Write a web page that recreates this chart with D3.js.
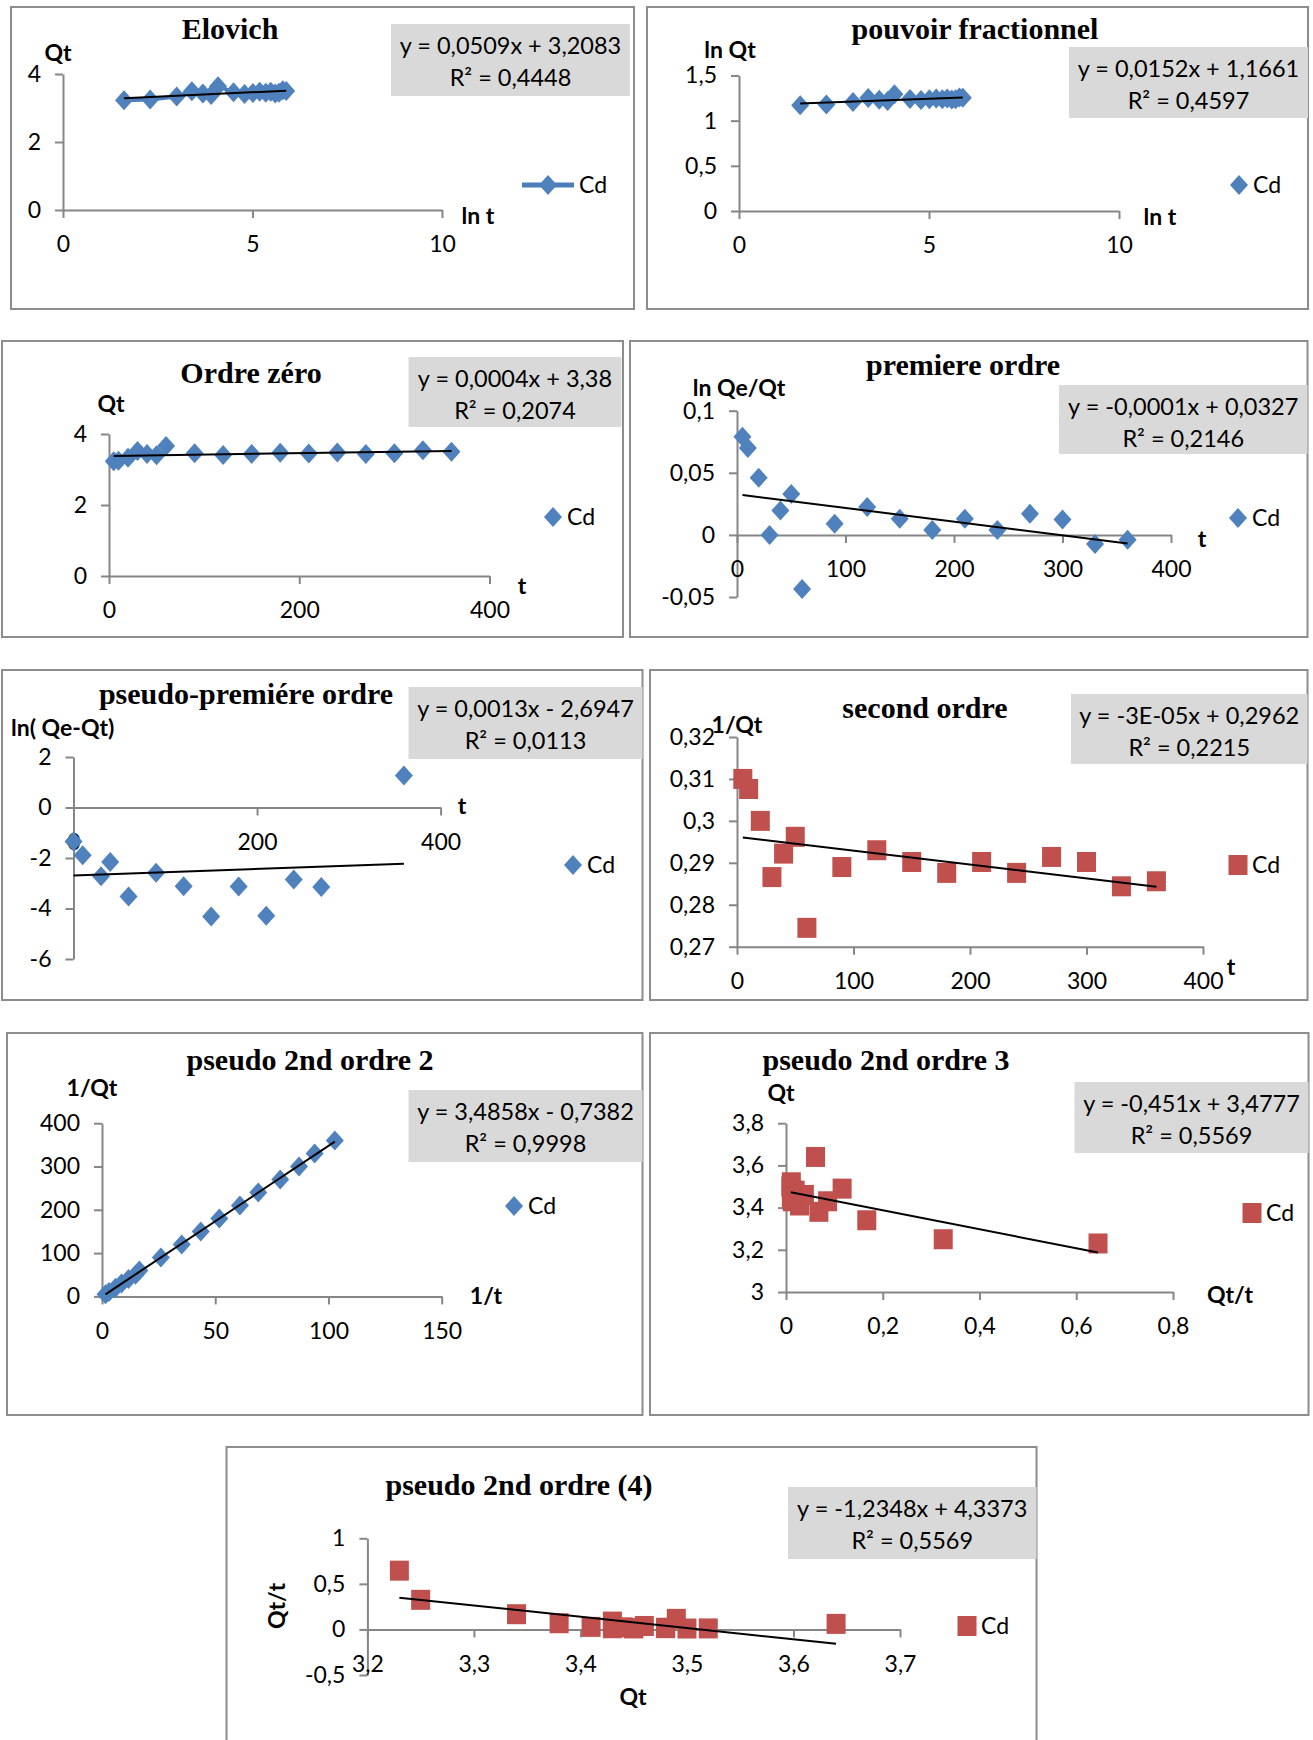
<!DOCTYPE html>
<html>
<head>
<meta charset="utf-8">
<script src="https://cdn.jsdelivr.net/npm/d3@7"></script>
<style>
  body { margin: 0; background: #fff; }
  svg text { font-family: Lato, "Liberation Sans", sans-serif; fill: #000; }
  .title { font-family: "Liberation Serif", "Times New Roman", serif; font-weight: bold; }
</style>
</head>
<body>
<svg id="chart" width="1313" height="1740"></svg>
<script>
// shared time points (minutes)
const tMin = [5, 10, 20, 30, 40, 50, 60, 90, 120, 150, 180, 210, 240, 270, 300, 330, 360];

// Elovich : Qt vs ln t
const elovichX = [1.61, 2.30, 3.00, 3.40, 3.69, 3.91, 4.09, 4.50, 4.79, 5.01, 5.19, 5.35, 5.48, 5.60, 5.70, 5.80, 5.89];
const elovichY = [3.23, 3.25, 3.34, 3.49, 3.43, 3.38, 3.64, 3.46, 3.41, 3.44, 3.48, 3.45, 3.48, 3.43, 3.45, 3.52, 3.50];
const elovichFit = [0.0509, 3.2083];
const elovichEq = ["y = 0,0509x + 3,2083", "R² = 0,4448"];

// pouvoir fractionnel : ln Qt vs ln t
const fracX = elovichX;
const fracY = [1.171, 1.179, 1.206, 1.250, 1.231, 1.217, 1.293, 1.241, 1.228, 1.236, 1.246, 1.238, 1.246, 1.233, 1.238, 1.257, 1.254];
const fracFit = [0.0152, 1.1661];
const fracEq = ["y = 0,0152x + 1,1661", "R² = 0,4597"];

// ordre zéro : Qt vs t
const zeroY = [3.23, 3.25, 3.33, 3.52, 3.44, 3.40, 3.66, 3.46, 3.41, 3.44, 3.47, 3.45, 3.48, 3.44, 3.46, 3.54, 3.50];
const zeroFit = [0.0004, 3.38];
const zeroEq = ["y = 0,0004x + 3,38", "R² = 0,2074"];

// premiere ordre : ln Qe/Qt vs t
const firstY = [0.079, 0.070, 0.046, 0.000, 0.0196, 0.033, -0.0435, 0.009, 0.0225, 0.013, 0.004, 0.013, 0.004, 0.017, 0.0124, -0.0073, -0.004];
const firstFit = [-0.00011, 0.0327];
const firstEq = ["y = -0,0001x + 0,0327", "R² = 0,2146"];

// pseudo-premiére ordre : ln(Qe-Qt) vs t
const pfoX = [0, 10, 30, 40, 60, 90, 120, 150, 180, 210, 240, 270, 360];
const pfoY = [-1.35, -1.89, -2.72, -2.16, -3.52, -2.58, -3.12, -4.32, -3.13, -4.29, -2.85, -3.15, 1.27];
const pfoFit = [0.0013, -2.6947];
const pfoEq = ["y = 0,0013x - 2,6947", "R² = 0,0113"];

// second ordre : 1/Qt vs t
const secondY = [0.310, 0.3076, 0.300, 0.2866, 0.2922, 0.2962, 0.2745, 0.289, 0.293, 0.2902, 0.2876, 0.2902, 0.2876, 0.2914, 0.2902, 0.2844, 0.2856];
const secondFit = [-0.000033, 0.2962];
const secondEq = ["y = -3E-05x + 0,2962", "R² = 0,2215"];

// pseudo 2nd ordre 2
const pso2X = [1.55, 3.08, 5.99, 8.6, 11.7, 14.8, 16.5, 26.0, 35.2, 43.6, 51.8, 60.9, 69.0, 78.7, 87.0, 93.9, 102.8];
const pso2Y = tMin;
const pso2Fit = [3.4858, -0.7382];
const pso2Eq = ["y = 3,4858x - 0,7382", "R² = 0,9998"];

// pseudo 2nd ordre 3 : Qt vs Qt/t
const pso3X = [0.645, 0.325, 0.167, 0.116, 0.086, 0.068, 0.061, 0.038, 0.028, 0.023, 0.019, 0.016, 0.014, 0.013, 0.011, 0.011, 0.010];
const pso3Y = [3.23, 3.25, 3.34, 3.49, 3.43, 3.38, 3.64, 3.46, 3.41, 3.44, 3.48, 3.45, 3.48, 3.43, 3.45, 3.52, 3.50];
const pso3Fit = [-0.451, 3.4777];
const pso3Eq = ["y = -0,451x + 3,4777", "R² = 0,5569"];

// pseudo 2nd ordre (4) : Qt/t vs Qt
const pso4X = pso3Y;
const pso4Y = pso3X;
const pso4Fit = [-1.2348, 4.3373];
const pso4Eq = ["y = -1,2348x + 4,3373", "R² = 0,5569"];

const BLUE = "#4f81bd", RED = "#c0504d", AXIS = "#868686";

const svg = d3.select("#chart");
const fmt = d3.formatLocale({ decimal: ",", thousands: " ", grouping: [3], currency: ["", ""], minus: "-" }).format("");

const diamond = (cx, cy) => `M${cx},${cy - 10}L${cx + 9},${cy}L${cx},${cy + 10}L${cx - 9},${cy}Z`;

function drawMarker(g, shape, cx, cy, color) {
  if (shape === "square") {
    g.append("rect").attr("x", cx - 9.5).attr("y", cy - 10).attr("width", 19).attr("height", 20).attr("fill", color);
  } else {
    g.append("path").attr("d", diamond(cx, cy)).attr("fill", color);
  }
}

function drawPanel(p) {
  const g = svg.append("g");
  g.append("rect")
    .attr("x", p.box[0]).attr("y", p.box[1]).attr("width", p.box[2]).attr("height", p.box[3])
    .attr("fill", "#fff").attr("stroke", "#8c8c8c").attr("stroke-width", 2);

  const x = d3.scaleLinear().domain(p.xDom).range(p.xRng);
  const y = d3.scaleLinear().domain(p.yDom).range(p.yRng);
  const cross = p.cross !== undefined ? p.cross : p.yDom[0];

  const ya = g.append("g")
    .attr("transform", `translate(${x(p.xDom[0])},0)`)
    .call(d3.axisLeft(y).tickValues(p.yTicks).tickFormat(fmt).tickSize(8).tickSizeOuter(0).tickPadding(14));
  const xa = g.append("g")
    .attr("transform", `translate(0,${y(cross)})`)
    .call(d3.axisBottom(x).tickValues(p.xTicks).tickFormat(fmt).tickSize(8).tickSizeOuter(0).tickPadding(18));
  [ya, xa].forEach(a => {
    a.select(".domain").attr("stroke", AXIS).attr("stroke-width", 2);
    a.selectAll(".tick line").attr("stroke", AXIS).attr("stroke-width", 2);
    a.selectAll(".tick text").style("font-family", "Lato").style("font-size", "23px").attr("fill", "#000");
  });

  // series
  const pts = p.xs.map((v, i) => [v, p.ys[i]]);
  const sg = g.append("g");
  if (p.line) {
    sg.append("path").datum(pts)
      .attr("d", d3.line().x(d => x(d[0])).y(d => y(d[1])))
      .attr("fill", "none").attr("stroke", "#4a7ebb").attr("stroke-width", 4);
  }
  pts.forEach(d => drawMarker(sg, p.shape, x(d[0]), y(d[1]), p.color));

  // linear trendline
  const ext = d3.extent(p.xs);
  g.append("line")
    .attr("x1", x(ext[0])).attr("y1", y(p.fit[0] * ext[0] + p.fit[1]))
    .attr("x2", x(ext[1])).attr("y2", y(p.fit[0] * ext[1] + p.fit[1]))
    .attr("stroke", "#000").attr("stroke-width", 2);

  // title
  g.append("text").attr("class", "title")
    .attr("x", p.title[0]).attr("y", p.title[1] + 10)
    .attr("text-anchor", "middle").style("font-size", "30px").text(p.name);

  // axis labels
  const yl = g.append("text").style("font-size", "23px").style("font-weight", "bold").text(p.yLabel);
  if (p.yLabelRot) {
    yl.attr("transform", `translate(${p.yLab[0] + 8},${p.yLab[1]}) rotate(-90)`).attr("text-anchor", "middle");
  } else if (p.yLabelLeft) {
    yl.attr("x", p.yLab[0]).attr("y", p.yLab[1] + 8);
  } else {
    yl.attr("x", p.yLab[0]).attr("y", p.yLab[1] + 8).attr("text-anchor", "middle");
  }
  g.append("text").style("font-size", "23px").style("font-weight", "bold")
    .attr("x", p.xLab[0]).attr("y", p.xLab[1] + 8).attr("text-anchor", "middle").text(p.xLabel);

  // equation box
  g.append("rect")
    .attr("x", p.eqBox[0]).attr("y", p.eqBox[1]).attr("width", p.eqBox[2]).attr("height", p.eqBox[3])
    .attr("fill", "#d9d9d9");
  p.eq.forEach((s, i) => {
    g.append("text").style("font-size", "23.5px")
      .attr("x", p.eqBox[0] + p.eqBox[2] / 2)
      .attr("y", p.eqBox[1] + 30 + i * 32)
      .attr("text-anchor", "middle").text(s);
  });

  // legend
  const lg = g.append("g");
  if (p.line) {
    lg.append("line").attr("x1", p.leg[0] - 26).attr("x2", p.leg[0] + 26)
      .attr("y1", p.leg[1]).attr("y2", p.leg[1]).attr("stroke", "#4a7ebb").attr("stroke-width", 5);
    drawMarker(lg, p.shape, p.leg[0], p.leg[1], p.color);
    lg.append("text").style("font-size", "23px").attr("x", p.leg[0] + 31).attr("y", p.leg[1] + 8).text("Cd");
  } else {
    drawMarker(lg, p.shape, p.leg[0], p.leg[1], p.color);
    lg.append("text").style("font-size", "23px").attr("x", p.leg[0] + 14).attr("y", p.leg[1] + 8).text("Cd");
  }
}

const panels = [
  { name: "Elovich", box: [11, 7, 623, 302], xDom: [0, 10], xRng: [63, 442], yDom: [0, 4], yRng: [210, 74],
    xTicks: [0, 5, 10], yTicks: [0, 2, 4], xs: elovichX, ys: elovichY, fit: elovichFit, eq: elovichEq,
    shape: "diamond", color: BLUE, line: true, title: [230, 29], yLabel: "Qt", yLab: [58, 53], xLabel: "ln t", xLab: [478, 216],
    eqBox: [391, 24, 239, 72], leg: [548, 185] },
  { name: "pouvoir fractionnel", box: [647, 7, 661, 302], xDom: [0, 10], xRng: [739, 1119], yDom: [0, 1.5], yRng: [211, 75.5],
    xTicks: [0, 5, 10], yTicks: [0, 0.5, 1, 1.5], xs: fracX, ys: fracY, fit: fracFit, eq: fracEq,
    shape: "diamond", color: BLUE, title: [975, 29], yLabel: "ln Qt", yLab: [730, 50], xLabel: "ln t", xLab: [1160, 217],
    eqBox: [1069, 47, 239, 71], leg: [1239, 185] },
  { name: "Ordre  zéro", box: [2, 341, 621, 296], xDom: [0, 400], xRng: [109, 489.5], yDom: [0, 4], yRng: [576, 434],
    xTicks: [0, 200, 400], yTicks: [0, 2, 4], xs: tMin, ys: zeroY, fit: zeroFit, eq: zeroEq,
    shape: "diamond", color: BLUE, title: [251, 373], yLabel: "Qt", yLab: [111, 404], xLabel: "t", xLab: [522, 586],
    eqBox: [408.5, 357, 213, 70], leg: [553, 517] },
  { name: "premiere  ordre", box: [630, 341, 677.5, 296], xDom: [0, 400], xRng: [737, 1171], yDom: [-0.05, 0.1], yRng: [597, 410.7],
    cross: 0, xTicks: [0, 100, 200, 300, 400], yTicks: [-0.05, 0, 0.05, 0.1], xs: tMin, ys: firstY, fit: firstFit, eq: firstEq,
    shape: "diamond", color: BLUE, title: [963, 365], yLabel: "ln Qe/Qt", yLab: [739, 388], xLabel: "t", xLab: [1202, 539],
    eqBox: [1059, 385, 248.5, 69], leg: [1238, 518] },
  { name: "pseudo-premiére ordre", box: [2, 670, 640.5, 330], xDom: [0, 400], xRng: [73.5, 440.6], yDom: [-6, 2], yRng: [959, 757],
    cross: 0, xTicks: [0, 200, 400], yTicks: [-6, -4, -2, 0, 2], xs: pfoX, ys: pfoY, fit: pfoFit, eq: pfoEq,
    shape: "diamond", color: BLUE, title: [246, 694], yLabel: "ln( Qe-Qt)", yLabelLeft: true, yLab: [11, 728], xLabel: "t", xLab: [462, 806],
    eqBox: [408.5, 687, 234, 72], leg: [573, 865] },
  { name: "second ordre", box: [650, 670, 657.5, 330], xDom: [0, 400], xRng: [737, 1203], yDom: [0.27, 0.32], yRng: [946.7, 737],
    xTicks: [0, 100, 200, 300, 400], yTicks: [0.27, 0.28, 0.29, 0.3, 0.31, 0.32], xs: tMin, ys: secondY, fit: secondFit, eq: secondEq,
    shape: "square", color: RED, title: [925, 708], yLabel: "1/Qt", yLab: [737, 725], xLabel: "t", xLab: [1231, 967],
    eqBox: [1071, 694, 236.5, 70], leg: [1238, 865] },
  { name: "pseudo 2nd ordre 2", box: [7, 1033, 635.5, 382], xDom: [0, 150], xRng: [102, 441.7], yDom: [0, 400], yRng: [1296.4, 1123.2],
    xTicks: [0, 50, 100, 150], yTicks: [0, 100, 200, 300, 400], xs: pso2X, ys: pso2Y, fit: pso2Fit, eq: pso2Eq,
    shape: "diamond", color: BLUE, title: [310, 1060], yLabel: "1/Qt", yLab: [92, 1088], xLabel: "1/t", xLab: [486, 1296],
    eqBox: [408.5, 1090, 234, 72], leg: [514, 1206] },
  { name: "pseudo 2nd ordre 3", box: [650, 1033, 658.5, 382], xDom: [0, 0.8], xRng: [786, 1173], yDom: [3, 3.8], yRng: [1292, 1123.2],
    xTicks: [0, 0.2, 0.4, 0.6, 0.8], yTicks: [3, 3.2, 3.4, 3.6, 3.8], xs: pso3X, ys: pso3Y, fit: pso3Fit, eq: pso3Eq,
    shape: "square", color: RED, title: [886, 1060], yLabel: "Qt", yLab: [781, 1093], xLabel: "Qt/t", xLab: [1230, 1295],
    eqBox: [1074.5, 1082, 234, 71], leg: [1252, 1213] },
  { name: "pseudo 2nd ordre (4)", box: [226.5, 1447, 810, 310], xDom: [3.2, 3.7], xRng: [367.4, 900], yDom: [-0.5, 1], yRng: [1675, 1538.3],
    cross: 0, xTicks: [3.2, 3.3, 3.4, 3.5, 3.6, 3.7], yTicks: [-0.5, 0, 0.5, 1], xs: pso4X, ys: pso4Y, fit: pso4Fit, eq: pso4Eq,
    shape: "square", color: RED, title: [519, 1485], yLabel: "Qt/t", yLabelRot: true, yLab: [277, 1606], xLabel: "Qt", xLab: [633, 1697],
    eqBox: [788, 1487, 248.5, 72], leg: [967, 1626] }
];

panels.forEach(drawPanel);
</script>
</body>
</html>
